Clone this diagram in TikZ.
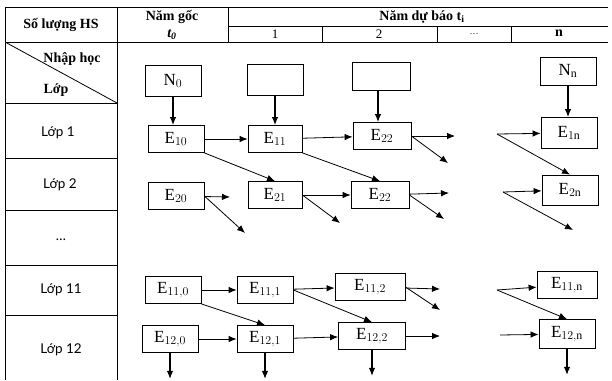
\documentclass[tikz,border=0pt]{standalone}
\usepackage{fontspec}
\setmainfont{Liberation Serif}
\newfontfamily\rowfont{Lato}
\usetikzlibrary{arrows.meta}

\begin{document}
\begin{tikzpicture}[x=1pt,y=-1pt,>={Latex[length=8pt,width=6.5pt]},line width=0.8pt,
		box/.style={draw, minimum width=56pt, minimum height=27pt, inner sep=0pt, font=\fontsize{17}{19}\selectfont},
		head/.style={font=\fontsize{14}{16}\selectfont\bfseries},
		num/.style={font=\fontsize{13}{15}\selectfont},
		rowlab/.style={font=\rowfont\fontsize{13.5}{15}\selectfont}]
		\useasboundingbox (0,0) rectangle (612,380);
		% table
		\draw (5,7) -- (608,7);
		\draw (228,26) -- (608,26);
		\draw (5,42) -- (608,42);
		\draw (5,7) -- (5,380);
		\draw (117,7) -- (117,380);
		\draw (228,7) -- (228,42);
		\draw (322,26) -- (322,42);
		\draw (437,26) -- (437,42);
		\draw (511,26) -- (511,42);
		\draw (5,42) -- (117,103);
		\foreach \y in {103,158,210,265,315}
			\draw (5,\y) -- (117,\y);
		% headers
		\node[head] (hs) at (61,25) {Số lượng HS};
		\node[head] (goc) at (172,17) {Năm gốc};
		\node[head] (t0) at (172,35) {\itshape t\textsubscript{0}};
		\node[head] (dubao) at (422,17) {Năm dự báo t\textsubscript{i}};
		\node[num] (c1) at (275,34) {1};
		\node[num] (c2) at (379,34) {2};
		\node[font=\fontsize{9}{11}\selectfont] (c3) at (474,34) {\dots};
		\node[head] (c4) at (559,33) {n};
		\node[head] (nhap) at (72,59) {Nhập học};
		\node[head] (lop) at (56,90) {Lớp};
		\node[rowlab] (l1) at (58,133) {Lớp 1};
		\node[rowlab] (l2) at (60,185) {Lớp 2};
		\node[rowlab] (l3) at (61,240) {\dots};
		\node[rowlab] (l11) at (61,290) {Lớp 11};
		\node[rowlab] (l12) at (61,350) {Lớp 12};
		% inputs
		\node[box, minimum height=31pt] (n0) at (173,81) {N$_0$};
		\node[box, minimum height=31pt] (nb1) at (275,80) {};
		\node[box, minimum width=58pt, minimum height=28pt] (nb2) at (381,76) {};
		\node[box, minimum height=28pt] (nn) at (568,71) {N$_\mathrm{n}$};
		% rows 1, 2
		\node[box] (e10) at (176,139) {E$_{10}$};
		\node[box, minimum width=54pt] (e11) at (275,139) {E$_{11}$};
		\node[box, minimum width=58pt] (e22a) at (382,136) {E$_{22}$};
		\node[box, minimum height=31pt] (e1n) at (569,133) {E$_{1\mathrm{n}}$};
		\node[box] (e20) at (176,196) {E$_{20}$};
		\node[box, minimum width=54pt] (e21) at (275,195) {E$_{21}$};
		\node[box, minimum width=58pt] (e22b) at (380,195) {E$_{22}$};
		\node[box, minimum height=30pt] (e2n) at (570,190) {E$_{2\mathrm{n}}$};
		% rows 11, 12
		\node[box] (e110) at (173,290) {E$_{11,0}$};
		\node[box] (e111) at (265,290) {E$_{11,1}$};
		\node[box, minimum width=70pt] (e112) at (370,287) {E$_{11,2}$};
		\node[box, minimum width=60pt] (e11n) at (567,285) {E$_{11,\mathrm{n}}$};
		\node[box] (e120) at (170,339) {E$_{12,0}$};
		\node[box] (e121) at (265,339) {E$_{12,1}$};
		\node[box, minimum width=67pt] (e122) at (372,336) {E$_{12,2}$};
		\node[box, minimum height=29pt] (e12n) at (567,334) {E$_{12,\mathrm{n}}$};
		% loose ends
		\coordinate (a1) at (455,136);
		\coordinate (a2) at (448,163);
		\coordinate (b1) at (230,197);
		\coordinate (b2) at (245,233);
		\coordinate (b3) at (340,223);
		\coordinate (b4) at (449,193);
		\coordinate (b5) at (444,219);
		\coordinate (r1) at (497,134);
		\coordinate (r2) at (503,192);
		\coordinate (r2e) at (573,230);
		\coordinate (c5) at (440,289);
		\coordinate (c6) at (440,310);
		\coordinate (c7) at (440,336);
		\coordinate (r3) at (497,290);
		\coordinate (r4) at (500,335);
		% arrows
		\draw[->, line width=1.2pt] (n0) -- (n0 |- e10.north);
		\draw[->, line width=1.2pt] (nb1) -- (nb1 |- e11.north);
		\draw[->, line width=1.2pt] (nb2.south -| 378,0) -- (e22a.north -| 378,0);
		\draw[->, line width=1.2pt] (nn) -- (nn |- e1n.north);
		\draw[->] (e10) -- (e11);
		\draw[->] (e10.south east) -- (e21.north);
		\draw[->] (e11) -- (e22a);
		\draw[->] (e11.south east) -- (e22b.north);
		\draw[->] (e22a) -- (a1);
		\draw[->] (e22a.east) -- (a2);
		\draw[->] (e20) -- (b1);
		\draw[->] (e20.east) -- (b2);
		\draw[->] (e21) -- (e22b);
		\draw[->] (e21.east) -- (b3);
		\draw[->] (e22b) -- (b4);
		\draw[->] (e22b.east) -- (b5);
		\draw[->] (r1) -- (e1n);
		\draw[->] (r1) -- (e2n.north);
		\draw[->] (r2) -- (e2n);
		\draw[->] (r2) -- (r2e);
		\draw[->] (e110) -- (e111);
		\draw[->] (e110.south east) -- (e121.north);
		\draw[->] (e111) -- (e112);
		\draw[->] (e111.east) -- (e122.north);
		\draw[->] (e112) -- (c5);
		\draw[->] (e112.east) -- (c6);
		\draw[->] (e120) -- (e121);
		\draw[->] (e121) -- (e122);
		\draw[->] (e122) -- (c7);
		\draw[->] (r3) -- (e11n);
		\draw[->] (r3) -- (e12n.north);
		\draw[->] (r4) -- (e12n);
		\foreach \n in {e120,e121,e122,e12n}
			\draw[->, line width=1.2pt] (\n.south) -- ++(0,26);
\end{tikzpicture}
\end{document}
